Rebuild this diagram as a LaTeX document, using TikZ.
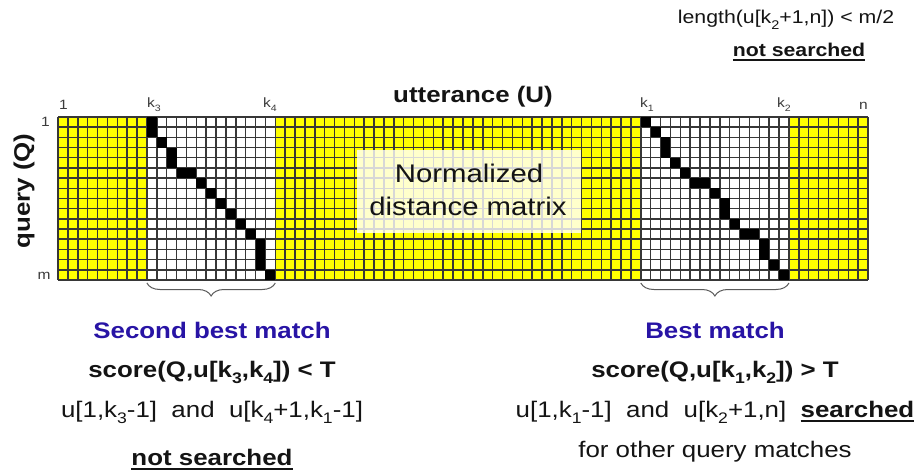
\documentclass[tikz,border=0pt]{standalone}
\usepackage{fontspec}
\setmainfont[FakeStretch=1.15]{Liberation Sans}
\usetikzlibrary{decorations.pathreplacing}
\definecolor{gridyellow}{RGB}{255,255,0}
\definecolor{gridline}{RGB}{55,55,55}
\definecolor{titleblue}{RGB}{40,20,165}
\definecolor{labelgray}{RGB}{60,60,60}
\definecolor{textblack}{RGB}{20,20,20}
\definecolor{bracegray}{RGB}{90,90,90}
\newcommand\myul[1]{\setbox0\hbox{#1}\rlap{\rule[-0.2em]{\wd0}{0.08em}}\box0}
\newcommand\mysub[1]{\raisebox{-0.28em}{\fontsize{0.68em}{0.8em}\selectfont #1}}
\def\cellw{9.878}
\def\cellh{10.1875}
\def\gx{58}
\def\gy{117}
\tikzset{
  txt/.style={inner sep=0pt, anchor=base, text=textblack, font=\fontsize{22.5}{27}\selectfont},
  boldtxt/.style={txt, font=\fontsize{22.5}{27}\selectfont\bfseries},
  toptxt/.style={txt, font=\fontsize{18.5}{22}\selectfont},
  topbold/.style={txt, font=\fontsize{18.5}{22}\selectfont\bfseries},
  bluetxt/.style={boldtxt, text=titleblue},
  smalllbl/.style={inner sep=0pt, anchor=base, text=labelgray, font=\fontsize{13.5}{16}\selectfont},
  gridstroke/.style={draw=gridline, line width=1.5pt},
  bracestyle/.style={draw=bracegray, line width=1pt, decorate, decoration={brace, mirror, amplitude=13pt}},
}
\begin{document}
\begin{tikzpicture}[x=1pt, y=-1pt]
\useasboundingbox (0,0) rectangle (921,473);
% matrix background
\fill[gridyellow] (\gx,\gy) rectangle ({\gx+82*\cellw},{\gy+16*\cellh});
\fill[white] ({\gx+9*\cellw},\gy) rectangle ({\gx+22*\cellw},{\gy+16*\cellh});
\fill[white] ({\gx+59*\cellw},\gy) rectangle ({\gx+74*\cellw},{\gy+16*\cellh});
% grid lines
\foreach \i in {0,...,82} \draw[gridstroke] ({\gx+\i*\cellw},\gy) -- ++(0,{16*\cellh});
\foreach \j in {0,...,16} \draw[gridstroke] (\gx,{\gy+\j*\cellh}) -- ++({82*\cellw},0);
% warping paths
\foreach \c/\r in {0/0,0/1,1/2,2/3,2/4,3/5,4/5,5/6,6/7,7/8,8/9,9/10,10/11,11/12,11/13,11/14,12/15}
  \fill[black] ({\gx+(9+\c)*\cellw},{\gy+\r*\cellh}) rectangle ++(\cellw,\cellh);
\foreach \c/\r in {0/0,1/1,2/2,2/3,3/4,4/5,5/6,6/6,7/7,8/8,8/9,9/10,10/11,11/11,12/12,12/13,13/14,14/15}
  \fill[black] ({\gx+(59+\c)*\cellw},{\gy+\r*\cellh}) rectangle ++(\cellw,\cellh);
% label box
\fill[white, opacity=0.8] (357,150) rectangle (581,233);
\node[txt, font=\fontsize{25.5}{30}\selectfont] (norm1) at (469,183) {Normalized};
\node[txt, font=\fontsize{25.5}{30}\selectfont] (norm2) at (468,216) {distance matrix};
% axis titles
\node[boldtxt] (utt) at (473,103) {utterance (U)};
\node[boldtxt, anchor=center, rotate=90] (qry) at (24,191) {query (Q)};
% axis labels
\node[smalllbl] (c1) at (63.5,110) {1};
\node[smalllbl, anchor=base west] (ck3) at (147,108) {k\mysub{3}};
\node[smalllbl, anchor=base west] (ck4) at (263,108) {k\mysub{4}};
\node[smalllbl, anchor=base west] (ck1) at (640,108) {k\mysub{1}};
\node[smalllbl, anchor=base west] (ck2) at (777,108) {k\mysub{2}};
\node[smalllbl] (cn) at (863.5,110) {n};
\node[smalllbl] (r1) at (45.5,126.5) {1};
\node[smalllbl] (rm) at (44,279) {m};
% braces
\coordinate (bl1) at ({\gx+9*\cellw},283);
\coordinate (bl2) at ({\gx+22*\cellw},283);
\coordinate (br1) at ({\gx+59*\cellw},283);
\coordinate (br2) at ({\gx+74*\cellw},283);
\draw[bracestyle] (bl1) -- (bl2);
\draw[bracestyle] (br1) -- (br2);
% top right
\node[toptxt] (len) at (786,24) {length(u[k\mysub{2}+1,n]) < m/2};
\node[topbold] (ns1) at (799,57) {\myul{not searched}};
% left texts
\node[bluetxt] (sbm) at (212,338) {Second best match};
\node[boldtxt] (sc2) at (212,377) {score(Q,u[k\mysub{3},k\mysub{4}]) < T};
\node[txt] (rg2) at (212,417) {u[1,k\mysub{3}-1]~~and~~u[k\mysub{4}+1,k\mysub{1}-1]};
\node[boldtxt] (ns2) at (212,465) {\myul{not searched}};
% right texts
\node[bluetxt] (bm) at (715,338) {Best match};
\node[boldtxt] (sc1) at (715,377) {score(Q,u[k\mysub{1},k\mysub{2}]) > T};
\node[txt] (rg1) at (715,417) {u[1,k\mysub{1}-1]~~and~~u[k\mysub{2}+1,n]~~\myul{\bfseries searched}};
\node[txt] (oth) at (715,457) {for other query matches};
\end{tikzpicture}
\end{document}
